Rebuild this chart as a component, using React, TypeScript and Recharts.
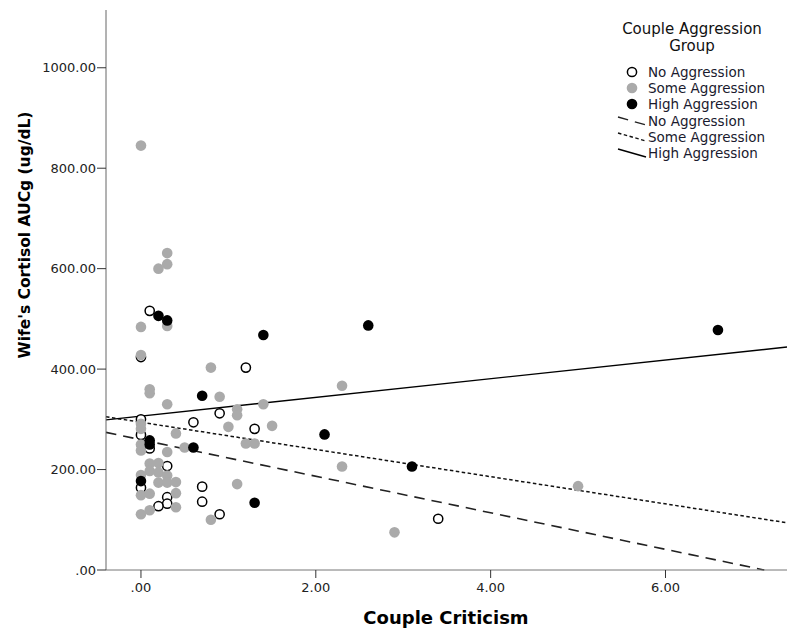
import { ScatterChart, Scatter, XAxis, YAxis, ReferenceLine, Legend } from "recharts";

type Pt = [number, number];

const FONT = "'DejaVu Sans', Verdana, sans-serif";

const groups = ["No Aggression", "Some Aggression", "High Aggression"];

// [couple criticism, wife's cortisol AUCg]
const noAggression: Pt[] = [
  [0.1, 516], [0, 424], [1.2, 403], [0.9, 312], [0, 300], [0.6, 294],
  [1.3, 281], [0, 269], [0.1, 242], [0.3, 207], [0, 164], [0.7, 166],
  [0.3, 145], [0.7, 136], [0.3, 132], [0.2, 127], [0.9, 111], [3.4, 102],
];

const someAggression: Pt[] = [
  [0, 845], [0.3, 631], [0.3, 609], [0.2, 600], [0, 484], [0.3, 486],
  [0, 428], [0.8, 403], [2.3, 367], [0.1, 360], [0.1, 352], [0.9, 345],
  [1.4, 330], [0.3, 330], [1.1, 320], [1.1, 308], [0, 291], [1.5, 287],
  [1.0, 285], [0, 281], [0.4, 272], [0, 250], [0, 238], [0.3, 235],
  [0.5, 244], [1.2, 252], [1.3, 252], [2.3, 206], [0.1, 212], [0.2, 213],
  [0.1, 197], [0.2, 194], [0, 189], [0.3, 188], [0.2, 174], [0.3, 174],
  [0.4, 175], [1.1, 171], [5.0, 167], [0, 149], [0.1, 152], [0.4, 153],
  [0.4, 125], [0.1, 119], [0, 111], [0.8, 100], [2.9, 75],
];

const highAggression: Pt[] = [
  [0.2, 506], [0.3, 497], [1.4, 468], [2.6, 487], [6.6, 478], [0.7, 347],
  [2.1, 270], [0.1, 258], [0.1, 250], [0.6, 244], [3.1, 206], [0, 177],
  [1.3, 134],
];

// fit line end points
const noAggressionFit: Pt[] = [[-0.4, 274], [7.13, 0]];
const someAggressionFit: Pt[] = [[-0.4, 305], [7.39, 94]];
const highAggressionFit: Pt[] = [[-0.4, 299], [7.39, 444]];

const xTicks = [0, 2, 4, 6];
const yTicks = [0, 200, 400, 600, 800, 1000];

const fmt = (v: number) => (v === 0 ? ".00" : v.toFixed(2));
const rows = (pts: Pt[]) => pts.map(([x, y]) => ({ x, y }));
const seg = (pts: Pt[]) => pts.map(([x, y]) => ({ x, y }));

const markerStyles = [
  { fill: "#fff", stroke: "#000", strokeWidth: 1.5, r: 4.6 },
  { fill: "#aaaaaa", stroke: "none", strokeWidth: 0, r: 5.3 },
  { fill: "#000", stroke: "none", strokeWidth: 0, r: 5.3 },
];

const lineStyles = [
  { stroke: "#222", dash: "10.5 7" },
  { stroke: "#111", dash: "3.5 2.5" },
  { stroke: "#000", dash: undefined },
];

const dot = (i: number) => (props: any) => {
  const m = markerStyles[i];
  return <circle cx={props.cx} cy={props.cy} r={m.r} fill={m.fill} stroke={m.stroke} strokeWidth={m.strokeWidth} />;
};

function LegendBox() {
  const rowStyle = { display: "flex", alignItems: "center", height: 16.2, whiteSpace: "nowrap" as const };
  return (
    <div style={{ width: 200, fontFamily: FONT, color: "#1a1a2e" }}>
      <div style={{ width: 184, textAlign: "center", fontSize: 15, lineHeight: "17px", color: "#111" }}>
        Couple Aggression
        <br />
        Group
      </div>
      <div style={{ marginTop: 9, fontSize: 13.5 }}>
        {groups.map((g, i) => {
          const m = markerStyles[i];
          return (
            <div key={"m" + g} style={rowStyle}>
              <svg width={48} height={16}>
                <circle cx={32} cy={8} r={m.r} fill={m.fill} stroke={m.stroke} strokeWidth={m.strokeWidth} />
              </svg>
              <span>{g}</span>
            </div>
          );
        })}
        {groups.map((g, i) => {
          const l = lineStyles[i];
          return (
            <div key={"l" + g} style={rowStyle}>
              <svg width={48} height={16}>
                <line x1={18} y1={4} x2={46} y2={12} stroke={l.stroke} strokeWidth={1.4} strokeDasharray={l.dash} />
              </svg>
              <span>{g}</span>
            </div>
          );
        })}
      </div>
    </div>
  );
}

export default function App() {
  const tickStyle = { fill: "#222", fontSize: 13, fontFamily: FONT };
  return (
    <div style={{ position: "absolute", left: 0, top: 0, width: 800, height: 635, background: "#fff" }}>
      <ScatterChart width={800} height={635} margin={{ top: 10, right: 13, bottom: 35, left: 0 }}>
        <XAxis
          type="number"
          dataKey="x"
          domain={[-0.4, 7.39]}
          ticks={xTicks}
          tickFormatter={fmt}
          allowDataOverflow
          height={30}
          tickSize={8}
          tickMargin={5}
          axisLine={{ stroke: "#777" }}
          tickLine={{ stroke: "#333" }}
          tick={tickStyle}
          label={() => (
            <text x={446} y={617} textAnchor="middle" dominantBaseline="central" fontFamily={FONT} fontWeight="bold" fontSize={18} fill="#000">
              Couple Criticism
            </text>
          )}
        />
        <YAxis
          type="number"
          dataKey="y"
          domain={[0, 1115]}
          ticks={yTicks}
          tickFormatter={fmt}
          allowDataOverflow
          width={106}
          tickSize={9}
          tickMargin={1}
          axisLine={{ stroke: "#666" }}
          tickLine={{ stroke: "#333" }}
          tick={tickStyle}
          label={() => (
            <text x={25} y={235} transform="rotate(-90 25 235)" textAnchor="middle" dominantBaseline="central" fontFamily={FONT} fontWeight="bold" fontSize={15.5} fill="#000">
              Wife's Cortisol AUCg (ug/dL)
            </text>
          )}
        />
        <Legend
          layout="vertical"
          align="center"
          verticalAlign="middle"
          content={() => <LegendBox />}
          wrapperStyle={{ left: 600, top: 21, width: 200, height: "auto" }}
        />
        <Scatter name={groups[0]} data={rows(noAggression)} shape={dot(0)} isAnimationActive={false} />
        <Scatter name={groups[1]} data={rows(someAggression)} shape={dot(1)} isAnimationActive={false} />
        <Scatter name={groups[2]} data={rows(highAggression)} shape={dot(2)} isAnimationActive={false} />
        <ReferenceLine segment={seg(noAggressionFit)} stroke={lineStyles[0].stroke} strokeWidth={1.6} strokeDasharray={lineStyles[0].dash} ifOverflow="visible" />
        <ReferenceLine segment={seg(someAggressionFit)} stroke={lineStyles[1].stroke} strokeWidth={1.5} strokeDasharray={lineStyles[1].dash} ifOverflow="visible" />
        <ReferenceLine segment={seg(highAggressionFit)} stroke={lineStyles[2].stroke} strokeWidth={1.4} ifOverflow="visible" />
      </ScatterChart>
    </div>
  );
}
